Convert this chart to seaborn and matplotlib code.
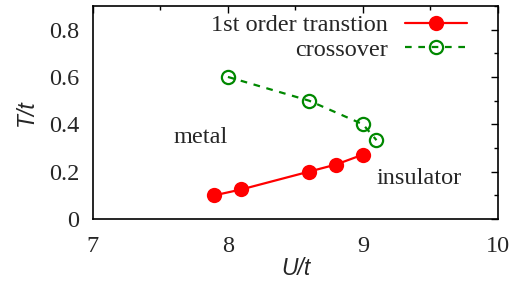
import matplotlib
matplotlib.use("Agg")
import matplotlib.pyplot as plt
import seaborn as sns
import pandas as pd
from matplotlib.ticker import MultipleLocator

u_first = [7.9, 8.1, 8.6, 8.8, 9.0]
t_first = [0.10, 0.125, 0.20, 0.23, 0.272]
u_cross = [8.0, 8.6, 9.0, 9.1]
t_cross = [0.60, 0.50, 0.40, 0.333]
x_ticks = [7, 8, 9, 10]
y_ticks = [0, 0.2, 0.4, 0.6, 0.8]
y_tick_labels = ["0", "0.2", "0.4", "0.6", "0.8"]

sns.set_theme(style="white")
plt.rcParams["font.family"] = ["Liberation Serif", "DejaVu Serif"]

fig = plt.figure(figsize=(5.22, 2.82), dpi=100)
ax = fig.add_axes([0.178, 0.2234, 0.776, 0.7556])

df1 = pd.DataFrame({"U": u_first, "T": t_first})
df2 = pd.DataFrame({"U": u_cross, "T": t_cross})

sns.lineplot(data=df1, x="U", y="T", ax=ax, color="#ff0000", lw=1.6,
             marker="o", markersize=11, markeredgewidth=0,
             label="1st order transtion")
sns.lineplot(data=df2, x="U", y="T", ax=ax, color="#008800", lw=1.6,
             linestyle=(0, (3, 3)), marker="o", markersize=9.5,
             markerfacecolor="none", markeredgewidth=1.6, markeredgecolor="#008800",
             label="crossover")

ax.set_xlim(7, 10)
ax.set_ylim(0, 0.9)
ax.set_xticks(x_ticks)
ax.set_yticks(y_ticks)
ax.set_yticklabels(y_tick_labels)
ax.xaxis.set_minor_locator(MultipleLocator(0.5))
ax.yaxis.set_minor_locator(MultipleLocator(0.1))
ax.tick_params(which="both", direction="in", top=True, right=True, labelsize=17.5,
               color="black", width=1)
ax.tick_params(which="major", length=5)
ax.tick_params(which="minor", length=3)
ax.tick_params(axis="y", which="major", pad=10)
ax.tick_params(axis="x", which="major", pad=12)
for s in ax.spines.values():
    s.set_color("black")
    s.set_linewidth(1.2)

ax.set_xlabel("U/t", fontsize=16.5, fontfamily="Liberation Sans", fontstyle="italic", labelpad=0)
ax.set_ylabel("T/t", fontsize=16.5, fontfamily="Liberation Sans", fontstyle="italic", labelpad=8)

ax.text(7.8, 0.346, "metal", fontsize=17.5, ha="center", va="center")
ax.text(9.415, 0.173, "insulator", fontsize=17.5, ha="center", va="center")

leg = ax.legend(loc="upper right", frameon=False, markerfirst=False, fontsize=17.5,
                handlelength=2.55, handletextpad=0.7, borderaxespad=0, borderpad=0,
                labelspacing=0.12, bbox_to_anchor=(0.923, 0.962))

fig.savefig("out.png", dpi=100)
